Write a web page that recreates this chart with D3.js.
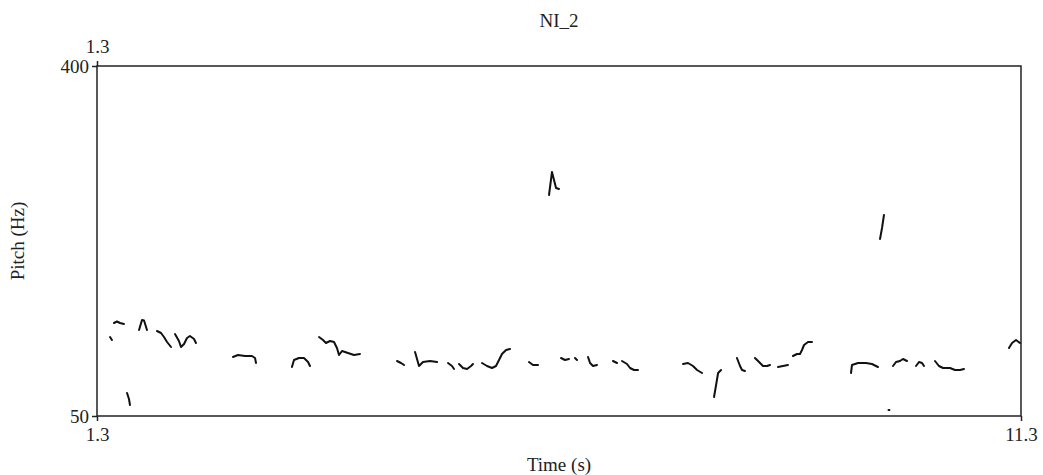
<!DOCTYPE html>
<html><head><meta charset="utf-8">
<script src="https://cdn.jsdelivr.net/npm/d3@7/dist/d3.min.js"></script>
<style>
html,body{margin:0;padding:0;background:#fff;}
text{font-family:"Liberation Serif","Times New Roman",serif;fill:#222;}
</style></head>
<body><svg id="c" width="1043" height="475"></svg>
<script>
const title = "NI_2";
const xLabel = "Time (s)";
const yLabel = "Pitch (Hz)";
const timeDomain = [1.3, 11.3];
const pitchDomain = [50, 400];
const xTicks = [1.3, 11.3];
const yTicks = [50, 400];
const topTicks = [1.3];

// pitch contour pieces: [time (s), pitch (Hz)]
const segments = [
  [[1.441,129],[1.462,126]],
  [[1.484,143],[1.516,144.5],[1.549,143],[1.592,142]],
  [[1.625,73],[1.646,67],[1.657,61]],
  [[1.755,136],[1.787,146],[1.809,145.5],[1.841,136]],
  [[1.949,135],[1.993,133],[2.025,129],[2.058,124],[2.101,119]],
  [[2.144,132],[2.187,125],[2.209,119],[2.242,122],[2.274,128],[2.306,130],[2.350,127],[2.371,123]],
  [[2.772,109],[2.826,111],[2.902,110],[2.977,110],[3.010,108],[3.021,103]],
  [[3.410,99],[3.432,106],[3.486,108],[3.540,108],[3.584,104],[3.605,100]],
  [[3.703,129],[3.746,126],[3.778,123],[3.822,125],[3.865,124],[3.897,118],[3.919,111],[3.952,115],[4.016,113],[4.081,111],[4.146,112]],
  [[4.547,105],[4.590,103],[4.623,101]],
  [[4.742,114],[4.785,100],[4.828,104],[4.904,105],[4.980,104]],
  [[5.099,103],[5.142,100],[5.164,97]],
  [[5.218,102],[5.261,98],[5.305,97],[5.348,100],[5.369,102]],
  [[5.467,103],[5.521,100],[5.575,98],[5.618,100],[5.651,106],[5.683,112],[5.727,116],[5.770,117]],
  [[5.975,104],[6.019,101],[6.073,101]],
  [[6.192,271],[6.224,294],[6.268,278],[6.300,277]],
  [[6.322,108],[6.365,106],[6.408,107]],
  [[6.473,108],[6.495,106]],
  [[6.614,109],[6.636,103],[6.668,100],[6.711,101]],
  [[6.884,105],[6.928,103]],
  [[6.982,105],[7.036,102],[7.069,98],[7.112,96],[7.155,96]],
  [[7.642,102],[7.696,103],[7.750,100],[7.794,96],[7.848,93]],
  [[7.978,69],[8.000,81],[8.022,93],[8.054,96]],
  [[8.226,108],[8.259,100],[8.281,96],[8.313,95]],
  [[8.421,108],[8.465,104],[8.508,100],[8.551,100],[8.584,101]],
  [[8.670,99],[8.724,100],[8.778,101]],
  [[8.832,110],[8.876,112],[8.908,112],[8.930,116],[8.952,121],[8.995,124],[9.038,124]],
  [[9.460,93],[9.471,101],[9.536,103],[9.622,103],[9.687,102],[9.752,99]],
  [[9.774,227],[9.796,238],[9.817,251]],
  [[9.866,56],[9.876,56]],
  [[9.915,100],[9.947,104],[9.990,105],[10.023,107],[10.066,105]],
  [[10.164,100],[10.196,104],[10.229,103],[10.250,100]],
  [[10.369,105],[10.412,100],[10.456,98],[10.532,98],[10.586,96],[10.640,96],[10.683,97]],
  [[11.170,118],[11.203,123],[11.246,126],[11.289,123]]
];

const W = 1043, H = 475;
const m = {left: 97, right: 22, top: 66, bottom: 59};
const svg = d3.select("#c");
const x = d3.scaleLinear().domain(timeDomain).range([m.left, W - m.right]);
const y = d3.scaleLinear().domain(pitchDomain).range([H - m.bottom, m.top]);
const fs = 19;
const ink = "#222";

// frame
svg.append("rect")
  .attr("x", x(timeDomain[0])).attr("y", y(pitchDomain[1]))
  .attr("width", x(timeDomain[1]) - x(timeDomain[0]))
  .attr("height", y(pitchDomain[0]) - y(pitchDomain[1]))
  .attr("fill", "none").attr("stroke", ink).attr("stroke-width", 1.5);

function styleAxis(g){
  g.select(".domain").remove();
  g.selectAll(".tick line").attr("stroke", ink).attr("stroke-width", 1.5);
  g.selectAll(".tick text").attr("font-size", fs).attr("fill", ink)
   .attr("font-family", "Liberation Serif, Times New Roman, serif");
}
svg.append("g").attr("transform", `translate(${m.left},0)`)
  .call(d3.axisLeft(y).tickValues(yTicks).tickSize(5).tickPadding(3).tickFormat(d3.format("d")))
  .call(styleAxis);
svg.append("g").attr("transform", `translate(0,${H - m.bottom})`)
  .call(d3.axisBottom(x).tickValues(xTicks).tickSize(5).tickPadding(7).tickFormat(d3.format(".1f")))
  .call(styleAxis);
svg.append("g").attr("transform", `translate(0,${m.top})`)
  .call(d3.axisTop(x).tickValues(topTicks).tickSize(5).tickPadding(8).tickFormat(d3.format(".1f")))
  .call(styleAxis);

// contour
const line = d3.line().x(d => x(d[0])).y(d => y(d[1])).curve(d3.curveLinear);
svg.append("g").selectAll("path").data(segments).join("path")
  .attr("d", line).attr("fill", "none").attr("stroke", "#111")
  .attr("stroke-width", 2).attr("stroke-linejoin", "round").attr("stroke-linecap", "round");

// labels
svg.append("text").attr("x", (m.left + W - m.right) / 2).attr("y", 27)
  .attr("text-anchor", "middle").attr("font-size", fs).text(title);
svg.append("text").attr("x", (m.left + W - m.right) / 2).attr("y", 471)
  .attr("text-anchor", "middle").attr("font-size", fs).text(xLabel);
svg.append("text").attr("transform", `translate(24,${(m.top + H - m.bottom) / 2}) rotate(-90)`)
  .attr("text-anchor", "middle").attr("font-size", fs).text(yLabel);
</script></body></html>
